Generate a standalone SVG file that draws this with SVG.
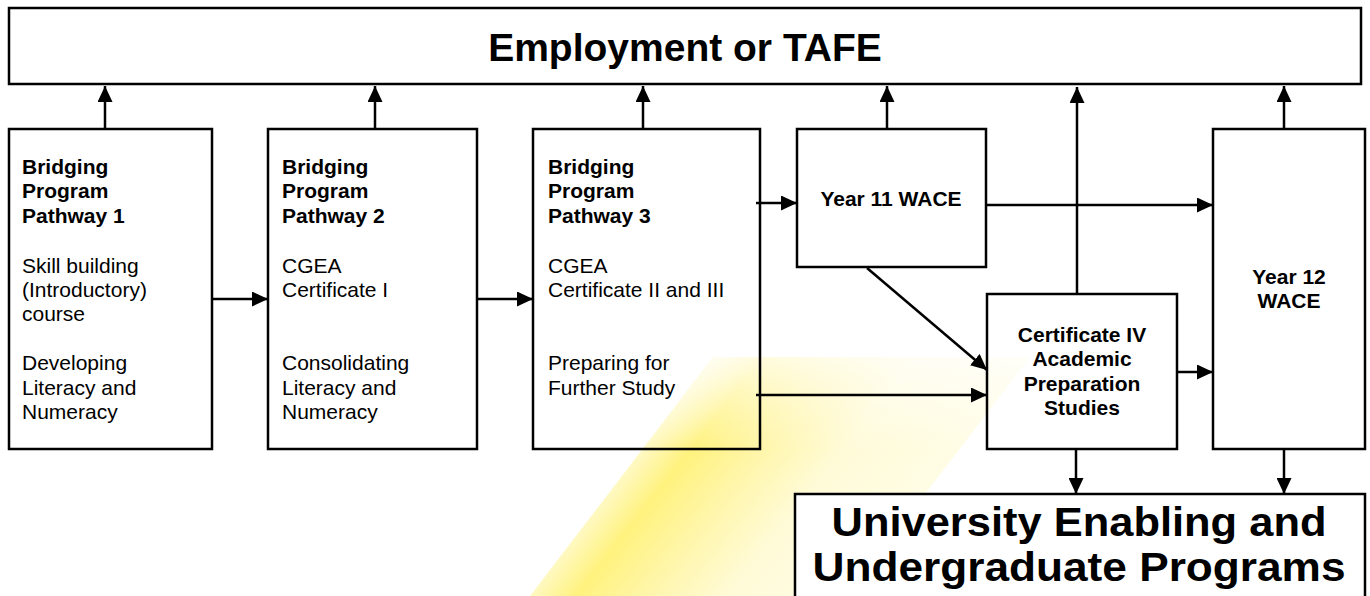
<svg xmlns="http://www.w3.org/2000/svg" width="1370" height="596" viewBox="0 0 1370 596">
  <defs>
    <marker id="arrow" markerUnits="userSpaceOnUse" markerWidth="16" markerHeight="15" refX="16" refY="7.5" orient="auto">
      <path d="M0,0 L16,7.5 L0,15 Z" fill="#000"/>
    </marker>
    <linearGradient id="wm" gradientUnits="userSpaceOnUse" x1="622" y1="476" x2="872" y2="672">
      <stop offset="0" stop-color="#FFF9C4"/>
      <stop offset="0.12" stop-color="#FFF27E"/>
      <stop offset="0.3" stop-color="#FFF6AC"/>
      <stop offset="0.5" stop-color="#FFFBD8"/>
      <stop offset="1" stop-color="#FFFEEE"/>
    </linearGradient>
    <linearGradient id="fade" gradientUnits="userSpaceOnUse" x1="0" y1="357" x2="0" y2="450">
      <stop offset="0" stop-color="#fff" stop-opacity="0.75"/>
      <stop offset="1" stop-color="#fff" stop-opacity="0"/>
    </linearGradient>
    <style>
      .box { fill: none; stroke: #000; stroke-width: 2.5; }
      .wbox { fill: #fff; stroke: #000; stroke-width: 2.5; }
      .t { font-family: "Liberation Sans", Arial, sans-serif; font-size: 21px; fill: #000; }
      .b { font-weight: bold; }
      .c { text-anchor: middle; }
      .big { font-family: "Liberation Sans", Arial, sans-serif; font-weight: bold; fill: #000; text-anchor: middle; }
      .conn line { stroke: #000; stroke-width: 2.5; marker-end: url(#arrow); }
    </style>
  </defs>
  <rect width="1370" height="596" fill="#fff"/>
  <path d="M713,357 L1030,357 L847,596 L530,596 Z" fill="url(#wm)"/>
  <path d="M713,357 L1030,357 L847,596 L530,596 Z" fill="url(#fade)"/>

  <g id="employment">
    <rect class="box" x="9" y="8" width="1352" height="76"/>
    <text class="big" x="685" y="61" font-size="39">Employment or TAFE</text>
  </g>

  <g id="pathway1">
    <rect class="box" x="9" y="129" width="203" height="320"/>
    <text class="t b" x="22" y="174">Bridging</text>
    <text class="t b" x="22" y="198">Program</text>
    <text class="t b" x="22" y="223">Pathway 1</text>
    <text class="t" x="22" y="273">Skill building</text>
    <text class="t" x="22" y="297">(Introductory)</text>
    <text class="t" x="22" y="321">course</text>
    <text class="t" x="22" y="370">Developing</text>
    <text class="t" x="22" y="395">Literacy and</text>
    <text class="t" x="22" y="419">Numeracy</text>
  </g>

  <g id="pathway2">
    <rect class="box" x="268" y="129" width="209" height="320"/>
    <text class="t b" x="282" y="174">Bridging</text>
    <text class="t b" x="282" y="198">Program</text>
    <text class="t b" x="282" y="223">Pathway 2</text>
    <text class="t" x="282" y="273">CGEA</text>
    <text class="t" x="282" y="297">Certificate I</text>
    <text class="t" x="282" y="370">Consolidating</text>
    <text class="t" x="282" y="395">Literacy and</text>
    <text class="t" x="282" y="419">Numeracy</text>
  </g>

  <g id="pathway3">
    <rect class="box" x="533" y="129" width="227" height="320"/>
    <text class="t b" x="548" y="174">Bridging</text>
    <text class="t b" x="548" y="198">Program</text>
    <text class="t b" x="548" y="223">Pathway 3</text>
    <text class="t" x="548" y="273">CGEA</text>
    <text class="t" x="548" y="297">Certificate II and III</text>
    <text class="t" x="548" y="370">Preparing for</text>
    <text class="t" x="548" y="395">Further Study</text>
  </g>

  <g id="year11">
    <rect class="box" x="797" y="129" width="189" height="138"/>
    <text class="t b c" x="891" y="206">Year 11 WACE</text>
  </g>

  <g id="cert4">
    <rect class="box" x="987" y="294" width="190" height="155"/>
    <text class="t b c" x="1082" y="342">Certificate IV</text>
    <text class="t b c" x="1082" y="366">Academic</text>
    <text class="t b c" x="1082" y="391">Preparation</text>
    <text class="t b c" x="1082" y="415">Studies</text>
  </g>

  <g id="year12">
    <rect class="box" x="1213" y="129" width="152" height="320"/>
    <text class="t b c" x="1289" y="284">Year 12</text>
    <text class="t b c" x="1289" y="308">WACE</text>
  </g>

  <g id="university">
    <rect class="wbox" x="795" y="494" width="570" height="110"/>
    <text class="big" x="1079" y="536" font-size="40" textLength="495" lengthAdjust="spacingAndGlyphs">University Enabling and</text>
    <text class="big" x="1079" y="581" font-size="40" textLength="533" lengthAdjust="spacingAndGlyphs">Undergraduate Programs</text>
  </g>

  <g id="connectors" class="conn">
    <line x1="105" y1="129" x2="105" y2="86"/>
    <line x1="375" y1="129" x2="375" y2="86"/>
    <line x1="643" y1="129" x2="643" y2="86"/>
    <line x1="887" y1="129" x2="887" y2="86"/>
    <line x1="1077" y1="294" x2="1077" y2="87"/>
    <line x1="1284" y1="129" x2="1284" y2="86"/>
    <line x1="212" y1="299" x2="268" y2="299"/>
    <line x1="477" y1="299" x2="533" y2="299"/>
    <line x1="756" y1="203" x2="797" y2="203"/>
    <line x1="986" y1="205" x2="1213" y2="205"/>
    <line x1="756" y1="395" x2="987" y2="395"/>
    <line x1="867" y1="268" x2="987" y2="370"/>
    <line x1="1177" y1="372" x2="1213" y2="372"/>
    <line x1="1076" y1="449" x2="1076" y2="494"/>
    <line x1="1284" y1="449" x2="1284" y2="494"/>
  </g>
</svg>
